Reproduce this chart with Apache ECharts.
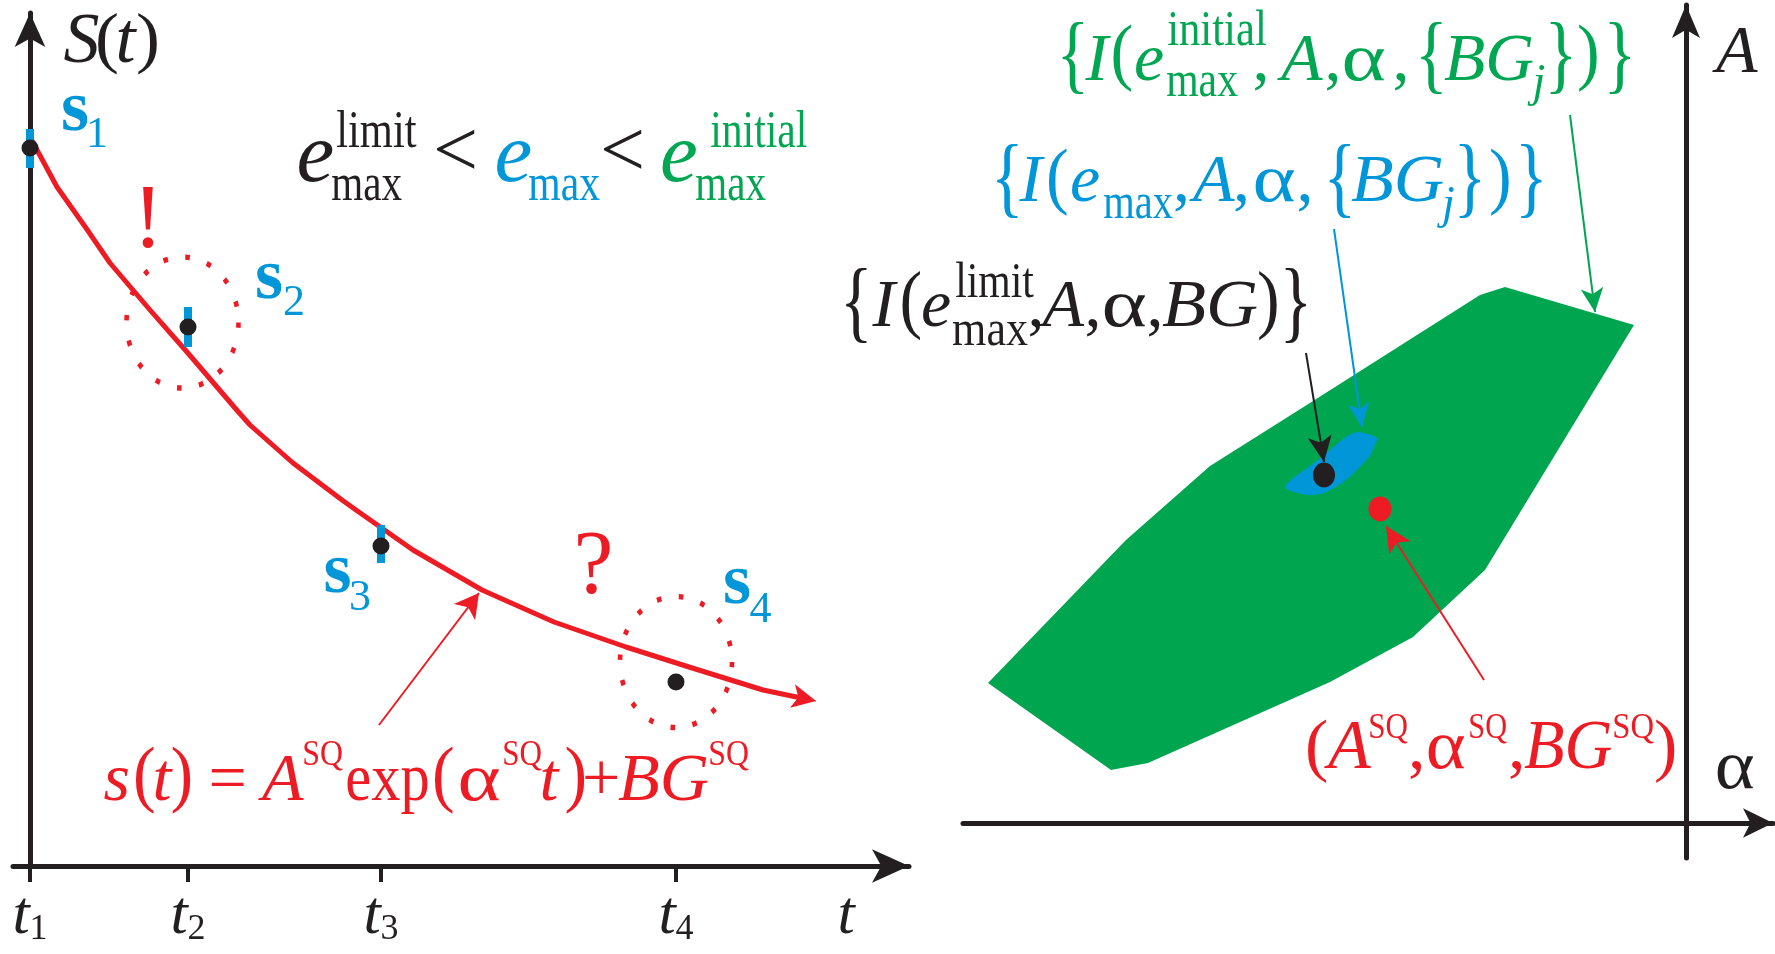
<!DOCTYPE html>
<html><head><meta charset="utf-8">
<script src="https://cdn.jsdelivr.net/npm/echarts@6/dist/echarts.min.js"></script>
<style>html,body{margin:0;padding:0;background:#fff;}#c{width:1775px;height:954px;}</style>
</head><body><div id="c"></div>
<script>
// ===== data (left panel: time t vs signal S) =====
const tickT = [0, 1.58, 3.51, 6.46];
const tickSub = ['1', '2', '3', '4'];
const endLabelT = 8.16;
const sampleT = [0, 1.58, 3.51, 6.46];
const sampleS = [7.18, 5.39, 3.20, 1.84];
const errT = [0, 1.58, 3.51];
const errLow = [6.98, 5.19, 3.03];
const errHigh = [7.37, 5.59, 3.41];
const circleT = [1.525, 6.46];
const circleS = [5.435, 2.04];
const curveT = [0, 0.27, 0.56, 0.80, 1.20, 1.57, 2.05, 2.20, 2.63, 3.12, 3.26, 3.83, 4.52, 5.24, 5.96, 6.59, 7.33, 7.86];
const curveS = [7.29, 6.79, 6.38, 6.03, 5.56, 5.14, 4.58, 4.41, 4.03, 3.66, 3.56, 3.16, 2.76, 2.44, 2.19, 1.99, 1.76, 1.65];
const fitArrowTail = [3.49, 1.41];
const fitArrowTip = [4.49, 2.73];
// ===== data (right panel: alpha vs A) =====
const regionAlpha = [-1.81, -0.52, -2.01, -2.73, -3.56, -5.38, -5.75, -6.98, -5.60, -4.76, -3.84, -2.06];
const regionA = [5.36, 4.98, 2.53, 1.86, 1.41, 0.60, 0.53, 1.40, 2.83, 3.57, 4.15, 5.28];
const innerAlpha = [-4.01, -3.95, -3.68, -3.40, -3.28, -3.09, -3.12, -3.17, -3.40, -3.62, -3.79];
const innerA = [3.35, 3.43, 3.63, 3.86, 3.91, 3.85, 3.76, 3.66, 3.43, 3.30, 3.28];
const limitPoint = [-3.62, 3.48];
const truePoint = [-3.06, 3.14];
const greenArrow = [[-1.16, 7.08], [-0.91, 5.11]];
const blueArrow = [[-3.52, 5.94], [-3.24, 3.96]];
const blackArrow = [[-3.80, 4.70], [-3.62, 3.61]];
const redArrow = [[-2.02, 1.43], [-3.00, 2.97]];

// ===== styles =====
const K = '#231f20', B = '#0096d7', G = '#00a651', R = '#ed1c24', GF = '#00a550';
const FAM = '"Liberation Serif", "Times New Roman", serif';
const PX_PER_UNIT = 100;

const mctx = document.createElement('canvas').getContext('2d');
function fontStr(o) { return (o.it ? 'italic ' : '') + (o.b ? 'bold ' : '') + o.size + 'px ' + FAM; }
const dCache = {};
function midToAlpha(font) {
  if (dCache[font] != null) return dCache[font];
  mctx.font = font;
  mctx.textBaseline = 'middle';
  const a = mctx.measureText('x').actualBoundingBoxDescent;
  mctx.textBaseline = 'alphabetic';
  const b = mctx.measureText('x').actualBoundingBoxDescent;
  return (dCache[font] = a - b);
}
function run(o) {
  const font = fontStr(o);
  mctx.font = font; mctx.textBaseline = 'alphabetic'; mctx.textAlign = 'left';
  const m = mctx.measureText(o.t);
  const inkL = -m.actualBoundingBoxLeft, inkR = m.actualBoundingBoxRight;
  let sx = 1, sy = 1, X, Bl;
  if (o.fit) { sx = (o.x[1] - o.x[0]) / (inkR - inkL); X = o.x[0] - inkL * sx; }
  else { X = (o.x[0] + o.x[1]) / 2 - (inkL + inkR) / 2; }
  if (o.y) {
    const asc = m.actualBoundingBoxAscent, desc = m.actualBoundingBoxDescent;
    sy = (o.y[1] - o.y[0]) / (asc + desc);
    Bl = o.y[1] - desc * sy;
  } else Bl = o.base;
  const d = midToAlpha(font);
  return {
    type: 'text', x: X, y: Bl - d * sy, scaleX: sx, scaleY: sy, silent: true, z: 100,
    style: { text: o.t, font: font, fill: o.color, textAlign: 'left', textVerticalAlign: 'middle', align: 'left', verticalAlign: 'middle' }
  };
}
function runs(list, color) { return list.map(o => run(Object.assign({ color: color }, o))); }

const texts = [].concat(
  runs([
    { t: 'S', it: 1, size: 72, x: [64, 98], base: 62 },
    { t: '(', size: 72, x: [99, 116], y: [13, 75] },
    { t: 't', it: 1, size: 72, x: [118, 138], base: 62 },
    { t: ')', size: 72, x: [138, 157], y: [13, 75] }
  ], K),
  runs([
    { t: 's', b: 1, size: 72, x: [62, 89], base: 130 }, { t: '1', size: 44, x: [91, 104], base: 147 },
    { t: 's', b: 1, size: 72, x: [258, 281], base: 298 }, { t: '2', size: 44, x: [284, 303], base: 315 },
    { t: 's', b: 1, size: 72, x: [326, 350], base: 592 }, { t: '3', size: 44, x: [351, 370], base: 610 },
    { t: 's', b: 1, size: 72, x: [726, 749], base: 603 }, { t: '4', size: 44, x: [749, 772], base: 622 }
  ], B),
  runs([
    { t: '!', size: 90, x: [143, 153], base: 247 },
    { t: '?', size: 90, x: [580, 608], base: 593 }
  ], R),
  runs([
    { t: 'e', it: 1, size: 85, x: [298, 333], base: 181 },
    { t: 'limit', size: 52, fit: 1, x: [337, 417], base: 147 },
    { t: 'max', size: 52, fit: 1, x: [332, 402], base: 200 },
    { t: '<', size: 80, x: [436, 475], base: 176 },
    { t: '<', size: 80, x: [603, 642], base: 176 }
  ], K),
  runs([
    { t: 'e', it: 1, size: 85, x: [498, 529], base: 181 },
    { t: 'max', size: 52, fit: 1, x: [529, 600], base: 200 }
  ], B),
  runs([
    { t: 'e', it: 1, size: 85, x: [663, 695], base: 181 },
    { t: 'initial', size: 52, fit: 1, x: [711, 807], base: 147 },
    { t: 'max', size: 52, fit: 1, x: [696, 766], base: 200 }
  ], G),
  runs([
    { t: 's', it: 1, size: 68, x: [106, 126], base: 800 },
    { t: '(', size: 68, x: [135, 154], y: [745, 814] },
    { t: 't', it: 1, size: 68, x: [155, 173], base: 800 },
    { t: ')', size: 68, x: [172, 191], y: [745, 814] },
    { t: '=', size: 68, x: [210, 246], base: 800 },
    { t: 'A', it: 1, size: 68, x: [261, 301], base: 800 },
    { t: 'SQ', size: 36, fit: 1, x: [304, 343], base: 765 },
    { t: 'exp', size: 68, fit: 1, x: [347, 428], base: 800 },
    { t: '(', size: 68, x: [430, 457], y: [745, 814] },
    { t: 'α', size: 68, fit: 1, x: [460, 500], base: 800 },
    { t: 'SQ', size: 36, fit: 1, x: [504, 542], base: 765 },
    { t: 't', it: 1, size: 68, x: [540, 562], base: 800 },
    { t: ')', size: 68, x: [565, 586], y: [745, 814] },
    { t: '+', size: 68, x: [589, 614], base: 800 },
    { t: 'BG', it: 1, size: 68, fit: 1, x: [618, 708], base: 800 },
    { t: 'SQ', size: 36, fit: 1, x: [710, 749], base: 765 }
  ], R),
  runs([
    { t: 'A', it: 1, size: 68, x: [1716, 1754], base: 72 },
    { t: 'α', size: 70, fit: 1, x: [1717, 1754], base: 788 }
  ], K),
  runs([
    { t: '{', size: 68, x: [1062, 1084], y: [22, 93] },
    { t: 'I', it: 1, size: 68, x: [1084, 1112], base: 80 },
    { t: '(', size: 68, x: [1112, 1132], y: [24, 92] },
    { t: 'e', it: 1, size: 68, x: [1134, 1165], base: 80 },
    { t: 'initial', size: 50, fit: 1, x: [1168, 1266], base: 45 },
    { t: 'max', size: 50, fit: 1, x: [1167, 1238], base: 96 },
    { t: ',', size: 68, x: [1252, 1268], base: 80 },
    { t: 'A', it: 1, size: 68, x: [1279, 1321], base: 80 },
    { t: ',', size: 68, x: [1324, 1340], base: 80 },
    { t: 'α', size: 68, fit: 1, x: [1344, 1385], base: 80 },
    { t: ',', size: 68, x: [1392, 1408], base: 80 },
    { t: '{', size: 68, x: [1419, 1444], y: [22, 93] },
    { t: 'BG', it: 1, size: 68, fit: 1, x: [1444, 1533], base: 80 },
    { t: 'j', it: 1, size: 46, x: [1525, 1547], base: 96 },
    { t: '}', size: 68, x: [1550, 1572], y: [22, 93] },
    { t: ')', size: 68, x: [1578, 1598], y: [24, 92] },
    { t: '}', size: 68, x: [1609, 1631], y: [22, 93] }
  ], G),
  runs([
    { t: '{', size: 68, x: [998, 1017], y: [145, 218] },
    { t: 'I', it: 1, size: 68, x: [1018, 1046], base: 201 },
    { t: '(', size: 68, x: [1048, 1067], y: [147, 216] },
    { t: 'e', it: 1, size: 68, x: [1070, 1101], base: 201 },
    { t: 'max', size: 50, fit: 1, x: [1104, 1173], base: 218 },
    { t: ',', size: 68, x: [1173, 1188], base: 201 },
    { t: 'A', it: 1, size: 68, x: [1194, 1230], base: 201 },
    { t: ',', size: 68, x: [1234, 1247], base: 201 },
    { t: 'α', size: 68, fit: 1, x: [1255, 1295], base: 201 },
    { t: ',', size: 68, x: [1298, 1310], base: 201 },
    { t: '{', size: 68, x: [1330, 1350], y: [145, 218] },
    { t: 'BG', it: 1, size: 68, fit: 1, x: [1351, 1443], base: 201 },
    { t: 'j', it: 1, size: 46, x: [1435, 1456], base: 218 },
    { t: '}', size: 68, x: [1460, 1480], y: [145, 218] },
    { t: ')', size: 68, x: [1491, 1509], y: [147, 216] },
    { t: '}', size: 68, x: [1522, 1541], y: [145, 218] }
  ], B),
  runs([
    { t: '{', size: 68, x: [847, 866], y: [268, 343] },
    { t: 'I', it: 1, size: 68, x: [870, 900], base: 326 },
    { t: '(', size: 68, x: [902, 920], y: [270, 341] },
    { t: 'e', it: 1, size: 68, x: [920, 953], base: 326 },
    { t: 'limit', size: 50, fit: 1, x: [956, 1034], base: 297 },
    { t: 'max', size: 50, fit: 1, x: [953, 1028], base: 345 },
    { t: ',', size: 68, x: [1028, 1042], base: 326 },
    { t: 'A', it: 1, size: 68, x: [1042, 1081], base: 326 },
    { t: ',', size: 68, x: [1084, 1100], base: 326 },
    { t: 'α', size: 68, fit: 1, x: [1104, 1146], base: 326 },
    { t: ',', size: 68, x: [1148, 1160], base: 326 },
    { t: 'BG', it: 1, size: 68, fit: 1, x: [1162, 1257], base: 326 },
    { t: ')', size: 68, x: [1257, 1279], y: [270, 341] },
    { t: '}', size: 68, x: [1285, 1307], y: [268, 343] }
  ], K),
  runs([
    { t: '(', size: 70, x: [1308, 1327], y: [720, 783] },
    { t: 'A', it: 1, size: 70, x: [1328, 1367], base: 768 },
    { t: 'SQ', size: 36, fit: 1, x: [1370, 1408], base: 738 },
    { t: ',', size: 70, x: [1410, 1422], base: 768 },
    { t: 'α', size: 70, fit: 1, x: [1428, 1465], base: 768 },
    { t: 'SQ', size: 36, fit: 1, x: [1470, 1507], base: 738 },
    { t: ',', size: 70, x: [1510, 1522], base: 768 },
    { t: 'BG', it: 1, size: 70, fit: 1, x: [1524, 1612], base: 768 },
    { t: 'SQ', size: 36, fit: 1, x: [1614, 1654], base: 738 },
    { t: ')', size: 70, x: [1657, 1674], y: [720, 783] }
  ], R)
);

// annotation arrow: the arrow tip lands on the end coordinate
function arrowSeries(pair, color, headSize, width, xi, z) {
  return {
    type: 'lines', coordinateSystem: 'cartesian2d', xAxisIndex: xi, yAxisIndex: xi,
    symbol: ['none', 'arrow'], symbolSize: [[1, 1], headSize], silent: true, z: z || 6,
    lineStyle: { color: color, width: width, opacity: 1, curveness: 0 },
    data: [{ coords: [pair[0], pair[1]] }]
  };
}

// curve: the thick line stops a little inside the arrow head
const nC = curveT.length;
const cTip = [curveT[nC - 1], curveS[nC - 1]];
const cPrev = [curveT[nC - 2], curveS[nC - 2]];
const cdx = cTip[0] - cPrev[0], cdy = cTip[1] - cPrev[1], cl = Math.sqrt(cdx * cdx + cdy * cdy);
const pullBack = 10 / PX_PER_UNIT;
const cEnd = [cTip[0] - cdx / cl * pullBack, cTip[1] - cdy / cl * pullBack];
const curveData = curveT.slice(0, nC - 1).map((t, i) => [t, curveS[i]]).concat([cEnd]);

const TL_SIZE = 62;
const tlD = midToAlpha(fontStr({ it: 1, size: TL_SIZE }));
const tickLabelMargin = 933 - 866 - (TL_SIZE / 2 + tlD);
const labelValues = tickT.concat([endLabelT]);
const labelTexts = tickSub.map(s => '{t|t}{n|' + s + '}').concat(['{t|t}']);

const axisLineK = (w, sym) => ({ show: true, onZero: true, symbol: ['none', 'arrow'], symbolSize: sym, lineStyle: { color: K, width: w } });

const chart = echarts.init(document.getElementById('c'), null, { renderer: 'canvas' });
chart.setOption({
  animation: false,
  backgroundColor: '#fff',
  grid: [
    { left: 13, top: 13, width: 896, height: 853 },
    { left: 963, top: 5, width: 810, height: 853 }
  ],
  xAxis: [
    {
      gridIndex: 0, type: 'value', min: -0.17, max: 8.79,
      axisLine: axisLineK(5, [25, 37]),
      splitLine: { show: false },
      axisTick: { show: true, customValues: tickT, length: 16, inside: false, lineStyle: { color: K, width: 4 } },
      axisLabel: {
        show: true, customValues: labelValues, margin: tickLabelMargin,
        formatter: (v, i) => { const k = labelValues.indexOf(v); return labelTexts[k >= 0 ? k : i]; },
        rich: {
          t: { fontFamily: FAM, fontStyle: 'italic', fontSize: TL_SIZE, lineHeight: TL_SIZE, color: K },
          n: { fontFamily: FAM, fontSize: 36, lineHeight: 10, verticalAlign: 'bottom', color: K }
        }
      }
    },
    {
      gridIndex: 1, type: 'value', min: -7.23, max: 0.87,
      axisLine: axisLineK(5, [22, 30]),
      splitLine: { show: false }, axisTick: { show: false }, axisLabel: { show: false }
    }
  ],
  yAxis: [
    {
      gridIndex: 0, type: 'value', min: 0, max: 8.53,
      axisLine: axisLineK(5, [23, 34]),
      splitLine: { show: false }, axisTick: { show: false }, axisLabel: { show: false }
    },
    {
      gridIndex: 1, type: 'value', min: -0.35, max: 8.18,
      axisLine: axisLineK(5, [21, 33]),
      splitLine: { show: false }, axisTick: { show: false }, axisLabel: { show: false }
    }
  ],
  series: [
    {
      type: 'custom', xAxisIndex: 1, yAxisIndex: 1, silent: true, z: 1,
      data: regionAlpha.map((a, i) => [a, regionA[i]]),
      renderItem: (p, api) => {
        if (p.dataIndex !== 0) return { type: 'group', children: [] };
        return { type: 'polygon', shape: { points: regionAlpha.map((a, i) => api.coord([a, regionA[i]])) }, style: { fill: GF } };
      }
    },
    {
      type: 'custom', xAxisIndex: 1, yAxisIndex: 1, silent: true, z: 2,
      data: innerAlpha.map((a, i) => [a, innerA[i]]),
      renderItem: (p, api) => {
        if (p.dataIndex !== 0) return { type: 'group', children: [] };
        return { type: 'polygon', shape: { smooth: 0.25, points: innerAlpha.map((a, i) => api.coord([a, innerA[i]])) }, style: { fill: B } };
      }
    },
    { type: 'scatter', xAxisIndex: 1, yAxisIndex: 1, silent: true, z: 4, symbol: 'circle', symbolSize: [22, 25], itemStyle: { color: K, opacity: 1 }, data: [limitPoint] },
    { type: 'scatter', xAxisIndex: 1, yAxisIndex: 1, silent: true, z: 4, symbol: 'circle', symbolSize: [23, 25], itemStyle: { color: R, opacity: 1 }, data: [truePoint] },
    arrowSeries(greenArrow, G, [17, 24], 2, 1),
    arrowSeries(blueArrow, B, [16, 24], 2, 1),
    arrowSeries(blackArrow, K, [18, 26], 2, 1),
    arrowSeries(redArrow, R, [19, 26], 2, 1),
    {
      type: 'line', xAxisIndex: 0, yAxisIndex: 0, silent: true, z: 3, symbol: 'none', showSymbol: false,
      smooth: false,
      lineStyle: { color: R, width: 5, join: 'round' }, data: curveData
    },
    arrowSeries([cPrev, cTip], R, [18, 24], 1, 0, 3),
    arrowSeries([fitArrowTail, fitArrowTip], R, [20, 24], 2, 0),
    {
      type: 'scatter', xAxisIndex: 0, yAxisIndex: 0, silent: true, z: 3, symbol: 'circle', symbolSize: [112, 131],
      itemStyle: { color: 'rgba(0,0,0,0)', borderColor: R, borderWidth: 5, borderType: [5, 19], opacity: 1 },
      data: circleT.map((t, i) => [t, circleS[i]])
    },
    {
      type: 'custom', xAxisIndex: 0, yAxisIndex: 0, silent: true, z: 4,
      encode: { x: 0, y: [1, 2] },
      data: errT.map((t, i) => [t, errLow[i], errHigh[i]]),
      renderItem: (p, api) => {
        const top = api.coord([api.value(0), api.value(2)]);
        const bot = api.coord([api.value(0), api.value(1)]);
        return { type: 'rect', shape: { x: top[0] - 4, y: top[1], width: 8, height: bot[1] - top[1] }, style: { fill: B } };
      }
    },
    {
      type: 'scatter', xAxisIndex: 0, yAxisIndex: 0, silent: true, z: 5, symbol: 'circle', symbolSize: 17,
      itemStyle: { color: K, opacity: 1 }, data: sampleT.map((t, i) => [t, sampleS[i]])
    }
  ],
  graphic: texts
});
</script></body></html>
